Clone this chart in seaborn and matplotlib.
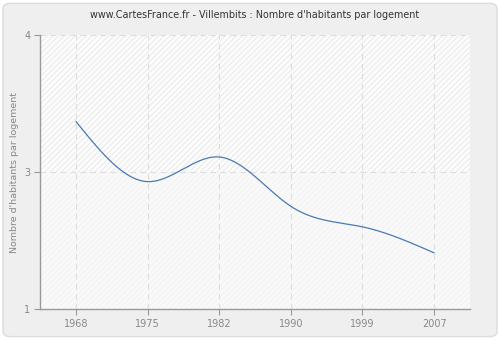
import numpy as np
import pandas as pd
import seaborn as sns
import matplotlib
matplotlib.use("Agg")
import matplotlib.pyplot as plt
from matplotlib.patches import FancyBboxPatch

years = ["1968", "1975", "1982", "1990", "1999", "2007"]
values = [3.37, 2.93, 3.11, 2.75, 2.60, 2.41]
y_ticks = [2, 3, 4]
y_tick_labels = ["1", "3", "4"]

title = "www.CartesFrance.fr - Villembits : Nombre d'habitants par logement"
ylabel = "Nombre d'habitants par logement"


def natural_spline(x, y, n=400):
    x = np.asarray(x, float)
    y = np.asarray(y, float)
    k = len(x)
    h = np.diff(x)
    A = np.zeros((k, k))
    b = np.zeros(k)
    A[0, 0] = A[-1, -1] = 1
    for i in range(1, k - 1):
        A[i, i - 1] = h[i - 1]
        A[i, i] = 2 * (h[i - 1] + h[i])
        A[i, i + 1] = h[i]
        b[i] = 3 * ((y[i + 1] - y[i]) / h[i] - (y[i] - y[i - 1]) / h[i - 1])
    c = np.linalg.solve(A, b)
    xs = np.linspace(x[0], x[-1], n)
    ys = np.empty_like(xs)
    for j, xv in enumerate(xs):
        i = min(np.searchsorted(x, xv, side="right") - 1, k - 2)
        dx = xv - x[i]
        bi = (y[i + 1] - y[i]) / h[i] - h[i] * (2 * c[i] + c[i + 1]) / 3
        di = (c[i + 1] - c[i]) / (3 * h[i])
        ys[j] = y[i] + bi * dx + c[i] * dx ** 2 + di * dx ** 3
    return xs, ys


sns.set_theme(style="white")
plt.rcParams["font.family"] = ["DejaVu Sans"]
plt.rcParams["hatch.linewidth"] = 0.5

fig = plt.figure(figsize=(5, 3.4), dpi=100, facecolor="white")
frame = FancyBboxPatch((0.006, 0.01), 0.988, 0.98, boxstyle="round,pad=0,rounding_size=0.015",
                       transform=fig.transFigure, facecolor="#efefef",
                       edgecolor="#dcdcdc", linewidth=1.0, zorder=-10)
fig.patches.append(frame)
ax = fig.add_axes([0.08, 0.091, 0.86, 0.806])
ax.set_zorder(1)
ax.set_facecolor("#fbfbfb")

idx = np.arange(len(years))
xs, ys = natural_spline(idx, values)
curve = pd.DataFrame({"x": xs, "y": ys})

ax.axhspan(3, 4, facecolor="#fcfcfc", hatch="//////", edgecolor="#e2e2e2", linewidth=0, zorder=0)
ax.axhspan(2, 3, facecolor="#f9f9f9", hatch="//////", edgecolor="#f1f1f1", linewidth=0, zorder=0)

for i in idx:
    ax.axvline(i, color="#dddddd", linestyle=(0, (5, 4)), linewidth=0.8, zorder=1)
ax.axhline(3, color="#dddddd", linestyle=(0, (5, 4)), linewidth=0.8, zorder=1)
ax.axhline(4, color="#dddddd", linestyle=(0, (5, 4)), linewidth=0.8, zorder=1)

sns.lineplot(data=curve, x="x", y="y", ax=ax, color="#4a7ab3", linewidth=0.9, zorder=3)

ax.set_xlim(-0.5, len(years) - 0.5)
ax.set_ylim(2, 4)
ax.set_xticks(idx)
ax.set_xticklabels(years)
ax.set_yticks(y_ticks)
ax.set_yticklabels(y_tick_labels)
ax.set_xlabel("")
ax.set_ylabel(ylabel, fontsize=6.8, color="#888888", labelpad=4)
ax.set_title(title, fontsize=6.9, color="#333333", pad=12)

for side in ["top", "right"]:
    ax.spines[side].set_visible(False)
for side in ["left", "bottom"]:
    ax.spines[side].set_color("#999999")
    ax.spines[side].set_linewidth(1.0)
ax.tick_params(axis="both", which="both", direction="out", length=4, width=0.8,
               color="#999999", labelcolor="#888888", labelsize=7, left=True, bottom=True, pad=3)

fig.savefig("out.png", dpi=100, facecolor="white")
